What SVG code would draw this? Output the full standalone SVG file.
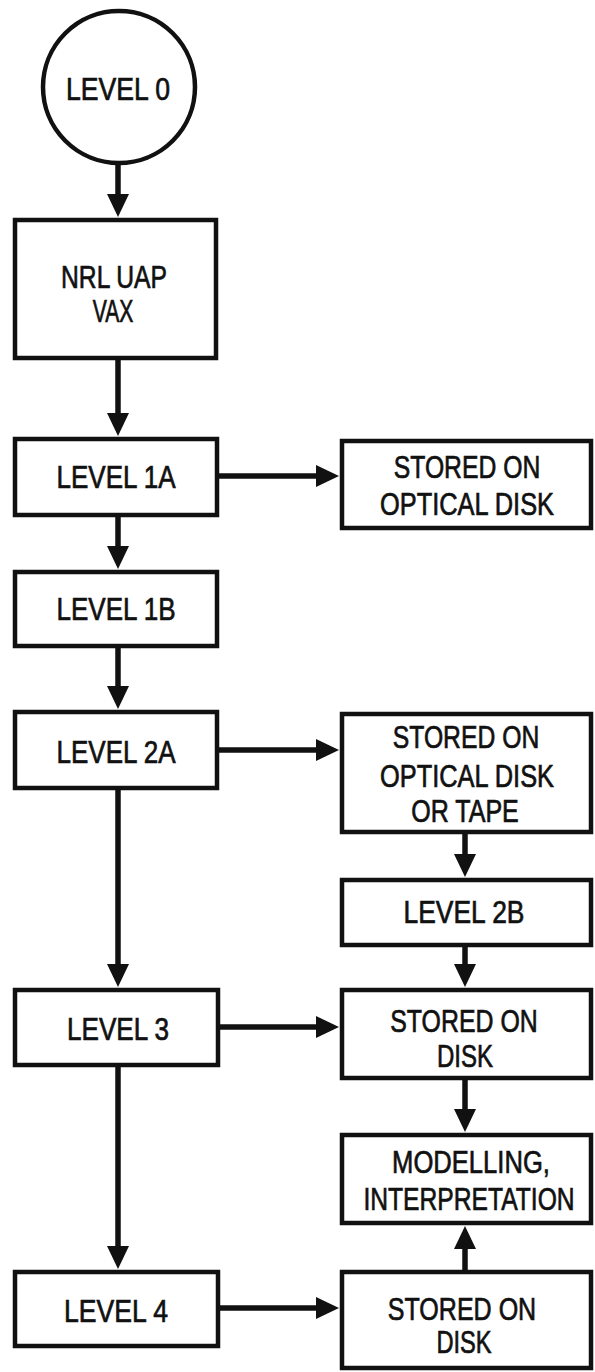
<svg xmlns="http://www.w3.org/2000/svg" width="595" height="1372" viewBox="0 0 595 1372">
<style>
.box{fill:#fff;stroke:#111;stroke-width:4.5}
.t{font-family:"Liberation Sans",Arial,sans-serif;font-size:32px;fill:#111;stroke:#111;stroke-width:0.7;text-anchor:middle}
.c{fill:none;stroke:#111;stroke-width:5.5;marker-end:url(#ah)}
</style>
<defs>
<marker id="ah" viewBox="0 0 23 22" refX="1" refY="11" markerWidth="23" markerHeight="22" markerUnits="userSpaceOnUse" orient="auto">
<path d="M0,0 L23,11 L0,22 Z" fill="#111"/>
</marker>
</defs>
<rect width="595" height="1372" fill="#fff"/>
<g id="connectors">
<path class="c" d="M118,165 V195"/>
<path class="c" d="M118,360 V414"/>
<path class="c" d="M118,517 V547"/>
<path class="c" d="M118,648 V687"/>
<path class="c" d="M118,790 V965"/>
<path class="c" d="M118,1067 V1247"/>
<path class="c" d="M219,476 H317"/>
<path class="c" d="M219,750 H317"/>
<path class="c" d="M220,1027 H317"/>
<path class="c" d="M220,1308 H317"/>
<path class="c" d="M465,834 V855"/>
<path class="c" d="M465,945 V965"/>
<path class="c" d="M465,1080 V1110"/>
<path class="c" d="M465,1270 V1248"/>
</g>
<g id="level0">
<circle cx="119" cy="87" r="76" fill="#fff" stroke="#111" stroke-width="4.5"/>
<text class="t" transform="translate(118,100) scale(0.831,1)">LEVEL 0</text>
</g>
<g id="nrl">
<rect class="box" x="15" y="220" width="201" height="138"/>
<text class="t" transform="translate(114,288) scale(0.771,1)">NRL UAP</text>
<text class="t" transform="translate(113,322) scale(0.66,1)">VAX</text>
</g>
<g id="level1a">
<rect class="box" x="15" y="439" width="202" height="76"/>
<text class="t" transform="translate(116,488) scale(0.813,1)">LEVEL 1A</text>
</g>
<g id="level1b">
<rect class="box" x="15" y="572" width="202" height="74"/>
<text class="t" transform="translate(116,620) scale(0.813,1)">LEVEL 1B</text>
</g>
<g id="level2a">
<rect class="box" x="15" y="712" width="202" height="76"/>
<text class="t" transform="translate(116,763) scale(0.813,1)">LEVEL 2A</text>
</g>
<g id="level3">
<rect class="box" x="15" y="990" width="203" height="75"/>
<text class="t" transform="translate(118,1040) scale(0.816,1)">LEVEL 3</text>
</g>
<g id="level4">
<rect class="box" x="15" y="1272" width="203" height="74"/>
<text class="t" transform="translate(116,1322) scale(0.831,1)">LEVEL 4</text>
</g>
<g id="stored1">
<rect class="box" x="342" y="441" width="249" height="87"/>
<text class="t" transform="translate(467,478) scale(0.773,1)">STORED ON</text>
<text class="t" transform="translate(467,515) scale(0.794,1)">OPTICAL DISK</text>
</g>
<g id="stored2">
<rect class="box" x="342" y="714" width="249" height="118"/>
<text class="t" transform="translate(466,748) scale(0.773,1)">STORED ON</text>
<text class="t" transform="translate(467,787) scale(0.794,1)">OPTICAL DISK</text>
<text class="t" transform="translate(465,822) scale(0.783,1)">OR TAPE</text>
</g>
<g id="level2b">
<rect class="box" x="342" y="880" width="249" height="65"/>
<text class="t" transform="translate(464,923) scale(0.826,1)">LEVEL 2B</text>
</g>
<g id="stored3">
<rect class="box" x="342" y="990" width="249" height="88"/>
<text class="t" transform="translate(464,1032) scale(0.778,1)">STORED ON</text>
<text class="t" transform="translate(465,1067) scale(0.75,1)">DISK</text>
</g>
<g id="modelling">
<rect class="box" x="342" y="1135" width="249" height="88"/>
<text class="t" transform="translate(471,1173) scale(0.80,1)">MODELLING,</text>
<text class="t" transform="translate(469,1210) scale(0.77,1)">INTERPRETATION</text>
</g>
<g id="stored4">
<rect class="box" x="342" y="1272" width="249" height="96"/>
<text class="t" transform="translate(462,1320) scale(0.783,1)">STORED ON</text>
<text class="t" transform="translate(464,1353) scale(0.74,1)">DISK</text>
</g>
</svg>
